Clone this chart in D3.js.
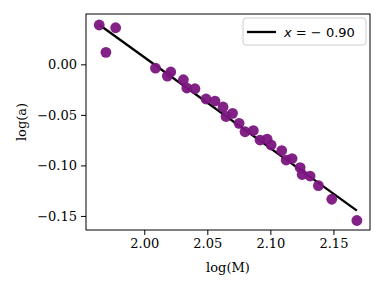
<!DOCTYPE html>
<html>
<head>
<meta charset="utf-8">
<script src="https://cdn.jsdelivr.net/npm/d3@7"></script>
<style>
  body { margin: 0; background: #fff; }
  svg { display: block; }
  .serif { font-family: "DejaVu Serif", serif; }
</style>
</head>
<body>
<div id="chart"></div>
<script>
  var width = 384, height = 288;
  var margin = {left: 86, right: 14, top: 14, bottom: 58};

  // log(M) and log(a)
  var logM = [1.9643, 1.9696, 1.9773, 2.0089, 2.0183, 2.0210, 2.0310, 2.0337, 2.0402, 2.0490,
              2.0561, 2.0625, 2.0648, 2.0700, 2.0752, 2.0799, 2.0865, 2.0918, 2.0974, 2.1006,
              2.1090, 2.1125, 2.1172, 2.1236, 2.1252, 2.1315, 2.1381, 2.1487, 2.1686];
  var logA = [0.0389, 0.0119, 0.0362, -0.0037, -0.0116, -0.0076, -0.0152, -0.0234, -0.0241, -0.0343,
              -0.0363, -0.0422, -0.0516, -0.0485, -0.0584, -0.0667, -0.0655, -0.0749, -0.0739, -0.0798,
              -0.0853, -0.0947, -0.0932, -0.1021, -0.1090, -0.1105, -0.1200, -0.1335, -0.1545];

  // fitted line
  var slope = -0.90;
  var intercept = 1.807;

  var xTicks = [2.00, 2.05, 2.10, 2.15];
  var yTicks = [0.00, -0.05, -0.10, -0.15];

  var svg = d3.select("#chart").append("svg")
    .attr("width", width)
    .attr("height", height);

  var x = d3.scaleLinear()
    .domain([1.9538, 2.179])
    .range([margin.left, width - margin.right]);

  var y = d3.scaleLinear()
    .domain([-0.1639, 0.0498])
    .range([height - margin.bottom, margin.top]);

  var minus = function(s){ return s.replace("-", "\u2212"); };

  svg.append("g")
    .attr("transform", "translate(0," + (height - margin.bottom) + ")")
    .call(d3.axisBottom(x).tickValues(xTicks).tickSize(5).tickPadding(4)
      .tickFormat(function(d){ return d3.format(".2f")(d); }));

  svg.append("g")
    .attr("transform", "translate(" + margin.left + ",0)")
    .call(d3.axisLeft(y).tickValues(yTicks).tickSize(5).tickPadding(4)
      .tickFormat(function(d){ return minus(d3.format(".2f")(d)); }));

  svg.selectAll(".tick text")
    .attr("class", "serif")
    .style("font-size", "13px")
    .attr("fill", "#000");
  svg.selectAll("g").attr("font-family", null);
  svg.selectAll(".domain").remove();
  svg.selectAll(".tick line").attr("stroke", "#000").attr("stroke-width", 1);

  // line
  var x0 = d3.min(logM), x1 = d3.max(logM);
  svg.append("line")
    .attr("x1", x(x0)).attr("y1", y(slope * x0 + intercept))
    .attr("x2", x(x1)).attr("y2", y(slope * x1 + intercept))
    .attr("stroke", "#000")
    .attr("stroke-width", 2.3);

  // points
  svg.selectAll("circle").data(logM).enter().append("circle")
    .attr("cx", function(d){ return x(d); })
    .attr("cy", function(d, i){ return y(logA[i]); })
    .attr("r", 5.4)
    .attr("fill", "#7b157f")
    .attr("fill-opacity", 0.95);

  // frame
  svg.append("rect")
    .attr("x", margin.left).attr("y", margin.top)
    .attr("width", width - margin.left - margin.right)
    .attr("height", height - margin.top - margin.bottom)
    .attr("fill", "none")
    .attr("stroke", "#000")
    .attr("stroke-width", 1);

  // legend
  var lg = svg.append("g");
  lg.append("rect")
    .attr("x", 243).attr("y", 18)
    .attr("width", 123).attr("height", 27)
    .attr("rx", 3)
    .attr("fill", "#fff").attr("fill-opacity", 0.8)
    .attr("stroke", "#ccc");
  lg.append("line")
    .attr("x1", 247).attr("x2", 276)
    .attr("y1", 32).attr("y2", 32)
    .attr("stroke", "#000").attr("stroke-width", 2.3);
  var lt = lg.append("text")
    .attr("x", 284).attr("y", 36.5)
    .style("font-family", "'DejaVu Sans', sans-serif")
    .style("font-size", "13px");
  lt.append("tspan").style("font-style", "italic").text("x");
  lt.append("tspan").text(" = \u2212 0.90");

  // axis labels
  svg.append("text")
    .attr("class", "serif")
    .attr("x", x.range()[0] + (x.range()[1] - x.range()[0]) / 2)
    .attr("y", 272)
    .attr("text-anchor", "middle")
    .style("font-size", "13px")
    .text("log(M)");

  svg.append("text")
    .attr("class", "serif")
    .attr("transform", "translate(26," + ((margin.top + height - margin.bottom) / 2) + ") rotate(-90)")
    .attr("text-anchor", "middle")
    .style("font-size", "13px")
    .text("log(a)");
</script>
</body>
</html>
